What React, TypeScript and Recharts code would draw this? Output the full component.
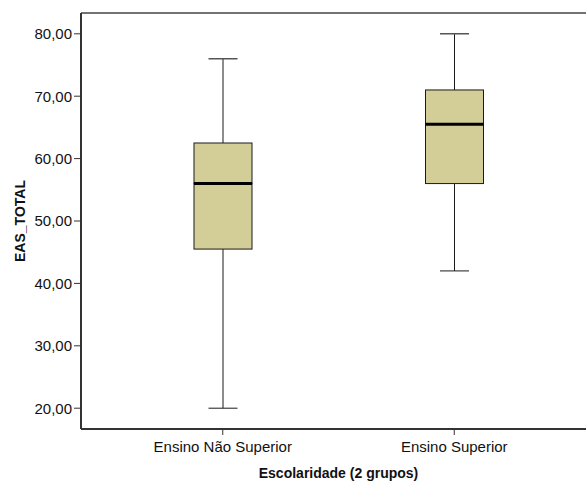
import { ComposedChart, Bar, XAxis, YAxis, CartesianGrid } from "recharts";

const categories = ["Ensino Não Superior", "Ensino Superior"];
const mins = [20, 42];
const q1s = [45.5, 56];
const medians = [56, 65.5];
const q3s = [62.5, 71];
const maxs = [76, 80];

const yTicks = [20, 30, 40, 50, 60, 70, 80];
const yMin = 16.667;
const yMax = 83.333;

const BOX_FILL = "#D3CE97";
const INK = "#1a1a1a";
const FONT = "'Liberation Sans', Arial, sans-serif";

// stacked segments: base (hidden) -> lower whisker -> lower box -> upper box -> upper whisker
const data = categories.map((name, i) => ({
  name,
  base: mins[i],
  lowWhisker: q1s[i] - mins[i],
  lowBox: medians[i] - q1s[i],
  highBox: q3s[i] - medians[i],
  highWhisker: maxs[i] - q3s[i],
}));

type SegProps = { x?: number; y?: number; width?: number; height?: number };

const Hidden = () => null;

const LowWhisker = ({ x = 0, y = 0, width = 0, height = 0 }: SegProps) => {
  const cx = x + width / 2;
  const cap = width / 4;
  return (
    <g>
      <line x1={cx} x2={cx} y1={y} y2={y + height} stroke={INK} strokeWidth={1} />
      <line x1={cx - cap} x2={cx + cap} y1={y + height} y2={y + height} stroke={INK} strokeWidth={1} />
    </g>
  );
};

const HighWhisker = ({ x = 0, y = 0, width = 0, height = 0 }: SegProps) => {
  const cx = x + width / 2;
  const cap = width / 4;
  return (
    <g>
      <line x1={cx} x2={cx} y1={y} y2={y + height} stroke={INK} strokeWidth={1} />
      <line x1={cx - cap} x2={cx + cap} y1={y} y2={y} stroke="#555" strokeWidth={1.5} />
    </g>
  );
};

const LowBox = ({ x = 0, y = 0, width = 0, height = 0 }: SegProps) => (
  <rect x={x} y={y} width={width} height={height} fill={BOX_FILL} stroke={INK} strokeWidth={1} />
);

const HighBox = ({ x = 0, y = 0, width = 0, height = 0 }: SegProps) => (
  <g>
    <rect x={x} y={y} width={width} height={height} fill={BOX_FILL} stroke={INK} strokeWidth={1} />
    <line x1={x} x2={x + width} y1={y + height} y2={y + height} stroke="#000" strokeWidth={3} />
  </g>
);

export default function App() {
  return (
    <div
      style={{
        position: "absolute",
        left: 0,
        top: 0,
        width: 586,
        height: 481,
        overflow: "hidden",
        background: "#fff",
      }}
    >
      {/* the source plot frame runs past the right edge, so the chart is a bit wider and clipped */}
      <ComposedChart
        width={600}
        height={481}
        data={data}
        margin={{ top: 13, right: 0, left: 0, bottom: 0 }}
        style={{ fontFamily: FONT }}
      >
        <CartesianGrid
          vertical={false}
          horizontalCoordinatesGenerator={({ offset }: any) => [offset.top]}
          stroke="#444"
          strokeWidth={1.5}
        />
        <XAxis
          dataKey="name"
          type="category"
          padding={{ left: 26, right: 30 }}
          height={52}
          axisLine={{ stroke: "#333", strokeWidth: 2 }}
          tickLine={{ stroke: "#333" }}
          tickSize={6}
          tickMargin={6}
          tick={{ fontSize: 15, fill: "#111" }}
          label={{
            value: "Escolaridade (2 grupos)",
            position: "insideBottom",
            offset: 3,
            dx: -2,
            style: { fontSize: 14, fontWeight: "bold", fill: "#111" },
          }}
        />
        <YAxis
          type="number"
          domain={[yMin, yMax]}
          ticks={yTicks}
          allowDataOverflow
          width={81}
          axisLine={{ stroke: "#333", strokeWidth: 2 }}
          tickLine={{ stroke: "#333" }}
          tickSize={7}
          tickMargin={2}
          tick={{ fontSize: 15, fill: "#111" }}
          tickFormatter={(v: number) => v.toFixed(2).replace(".", ",")}
          label={{
            value: "EAS_TOTAL",
            angle: -90,
            position: "insideLeft",
            offset: 20,
            style: { fontSize: 14, fontWeight: "bold", fill: "#111", textAnchor: "middle" },
          }}
        />
        <Bar dataKey="base" stackId="box" barSize={58} shape={Hidden} isAnimationActive={false} />
        <Bar dataKey="lowWhisker" stackId="box" barSize={58} shape={LowWhisker} isAnimationActive={false} />
        <Bar dataKey="lowBox" stackId="box" barSize={58} shape={LowBox} isAnimationActive={false} />
        <Bar dataKey="highBox" stackId="box" barSize={58} shape={HighBox} isAnimationActive={false} />
        <Bar dataKey="highWhisker" stackId="box" barSize={58} shape={HighWhisker} isAnimationActive={false} />
      </ComposedChart>
    </div>
  );
}
